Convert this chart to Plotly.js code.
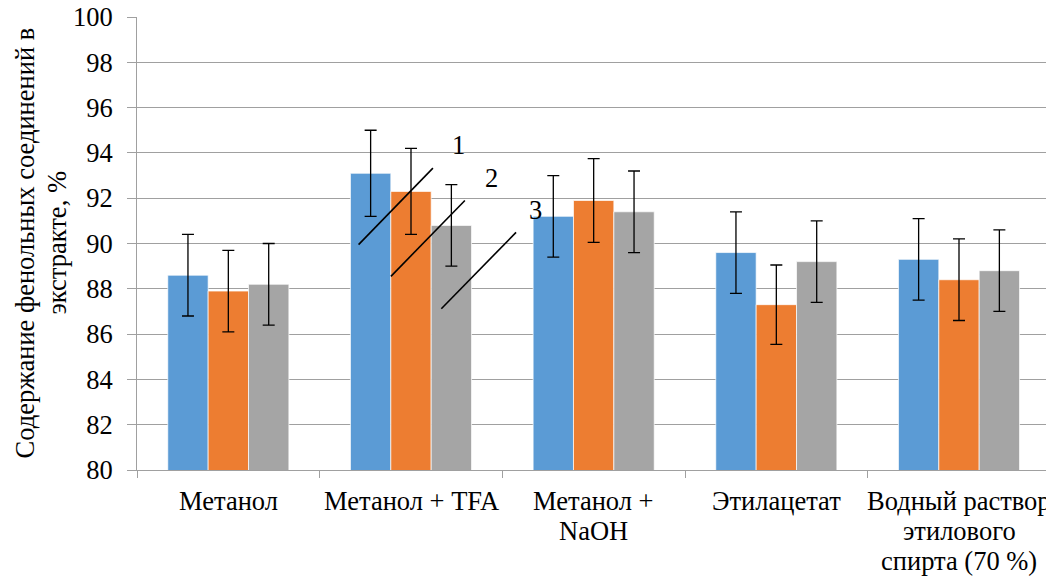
<!DOCTYPE html>
<html>
<head>
<meta charset="utf-8">
<script src="https://cdn.plot.ly/plotly-3.0.1.min.js"></script>
<style>
html,body{margin:0;padding:0;overflow:hidden;background:#fff;}
#chart{width:1070px;height:578px;}
</style>
</head>
<body>
<div id="chart"></div>
<script>
const categories = ["Метанол", "Метанол + TFA", "Метанол +<br>NaOH", "Этилацетат", "Водный раствор<br>этилового<br>спирта (70 %)"];
const series1 = [88.6, 93.1, 91.2, 89.6, 89.3];
const series2 = [87.9, 92.3, 91.9, 87.3, 88.4];
const series3 = [88.2, 90.8, 91.4, 89.2, 88.8];
const err1 = [1.8, 1.9, 1.8, 1.8, 1.8];
const err2 = [1.8, 1.9, 1.85, 1.75, 1.8];
const err3 = [1.8, 1.8, 1.8, 1.8, 1.8];
const seriesNames = ["1", "2", "3"];
const colors = ["#5B9BD5", "#ED7D31", "#A5A5A5"];
const yTitleLines = ["Содержание фенольных соединений в", "экстракте, %"];

const FONT = "Liberation Serif";
const FS = 26.5;
const vals = [series1, series2, series3];
const errs = [err1, err2, err3];
const traces = vals.map((v, i) => ({
  type: "bar",
  name: seriesNames[i],
  x: categories,
  y: v,
  marker: {color: colors[i], line: {color: "#ffffff", width: 0.7}},
  error_y: {type: "data", array: errs[i], visible: true, color: "#000000", thickness: 1.3, width: 6}
}));

const markLines = [
  {x0: 0.713, y0: 89.95, x1: 1.120, y1: 93.33, lx: 1.262, ly: 94.36, t: "1"},
  {x0: 0.890, y0: 88.55, x1: 1.295, y1: 91.90, lx: 1.438, ly: 92.89, t: "2"},
  {x0: 1.166, y0: 87.12, x1: 1.575, y1: 90.49, lx: 1.684, ly: 91.49, t: "3"}
];
const shapes = markLines.map(m => ({type: "line", xref: "x", yref: "y", x0: m.x0, y0: m.y0, x1: m.x1, y1: m.y1, line: {color: "#000", width: 1.6}}));
const annotations = markLines.map(m => ({xref: "x", yref: "y", x: m.lx, y: m.ly, text: m.t, showarrow: false, font: {family: FONT, size: FS, color: "#000"}}));

const LINE_H = 30;
categories.forEach(c => {
  c.split("<br>").forEach((ln, j) => {
    annotations.push({xref: "x", yref: "paper", x: c, y: 0, yanchor: "middle", yshift: -(31 + j * LINE_H),
      text: ln, showarrow: false, font: {family: FONT, size: FS, color: "#000"}});
  });
});
const yTitleX = [24, 56];
yTitleLines.forEach((ln, j) => {
  annotations.push({xref: "paper", yref: "paper", x: 0, y: 0.5, xanchor: "center", yanchor: "middle",
    xshift: -(137 - yTitleX[j]), textangle: -90, text: ln, showarrow: false,
    font: {family: FONT, size: FS, color: "#000"}});
});

const layout = {
  width: 1070, height: 578,
  margin: {l: 137, r: 16.5, t: 17.3, b: 108},
  paper_bgcolor: "#fff", plot_bgcolor: "#fff",
  barmode: "group", bargap: 0.337, bargroupgap: 0,
  showlegend: false,
  font: {family: FONT, size: FS, color: "#000"},
  xaxis: {
    type: "category",
    showline: true, linecolor: "#a0a0a0", linewidth: 1,
    ticks: "outside", tickson: "boundaries", ticklen: 7, tickcolor: "#a0a0a0",
    showticklabels: false,
    showgrid: false, zeroline: false
  },
  yaxis: {
    range: [80, 100], dtick: 2, tick0: 80,
    showline: true, linecolor: "#a0a0a0", linewidth: 1,
    ticks: "outside", ticklen: 9, tickcolor: "#a0a0a0",
    ticklabelstandoff: 9,
    showgrid: true, gridcolor: "#a0a0a0", gridwidth: 1,
    zeroline: false,
    tickfont: {family: FONT, size: FS, color: "#000"}
  },
  shapes: shapes,
  annotations: annotations
};

Plotly.newPlot("chart", traces, layout, {displayModeBar: false, staticPlot: true});
</script>
</body>
</html>
